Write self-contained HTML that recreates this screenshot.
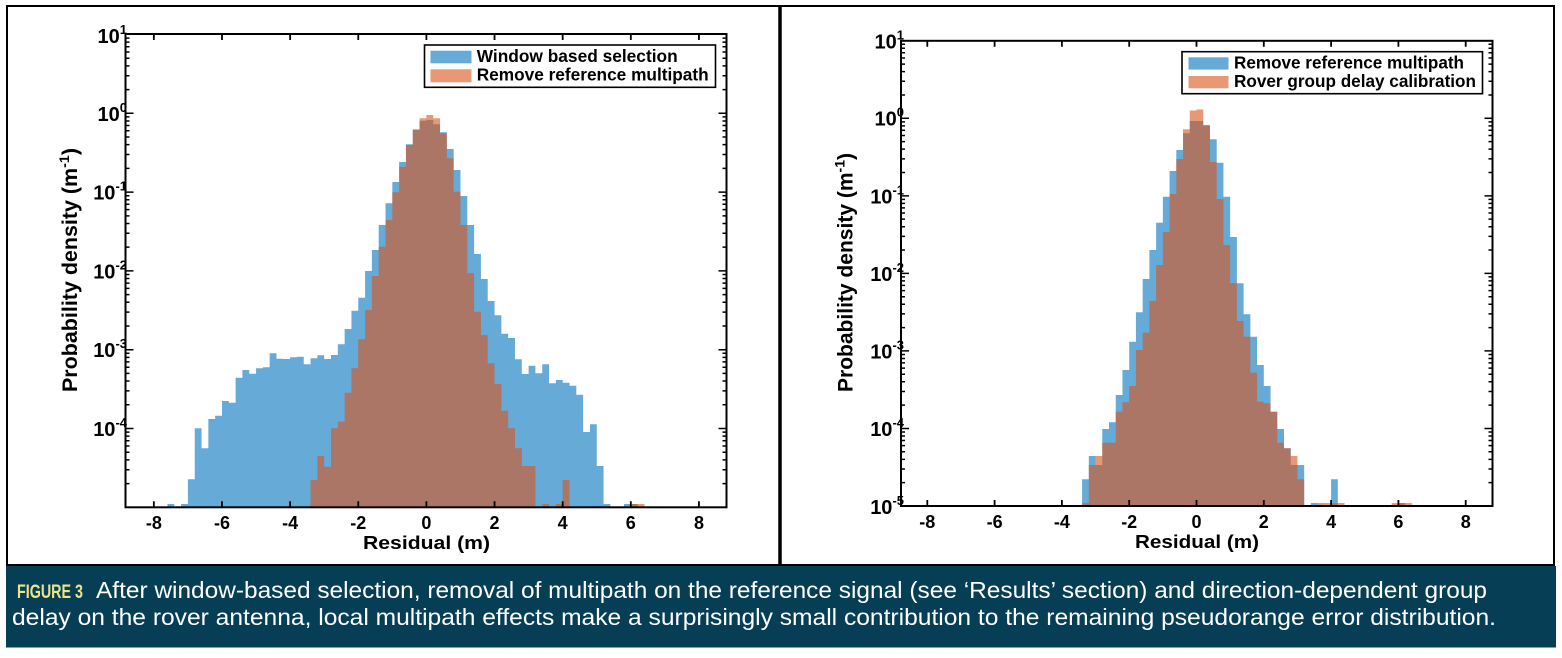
<!DOCTYPE html>
<html>
<head>
<meta charset="utf-8">
<style>
  html, body { margin: 0; padding: 0; background: #ffffff; }
  svg { display: block; }
  .t { font-family: "Liberation Sans", Arial, sans-serif; font-weight: bold; fill: #000; }
  .cap { font-family: "Liberation Sans", Arial, sans-serif; fill: #ffffff; }
</style>
</head>
<body>
<svg width="1562" height="658" viewBox="0 0 1562 658" xmlns="http://www.w3.org/2000/svg">
  <defs>
    <path id="lmin" d="M0,483.58h4M0,469.7h4M0,459.86h4M0,452.22h4M0,446h4M0,440.71h4M0,436.14h4M0,432.1h4M0,404.78h4M0,390.9h4M0,381.06h4M0,373.42h4M0,367.2h4M0,361.91h4M0,357.34h4M0,353.3h4M0,325.98h4M0,312.1h4M0,302.26h4M0,294.62h4M0,288.4h4M0,283.11h4M0,278.54h4M0,274.5h4M0,247.18h4M0,233.3h4M0,223.46h4M0,215.82h4M0,209.6h4M0,204.31h4M0,199.74h4M0,195.7h4M0,168.38h4M0,154.5h4M0,144.66h4M0,137.02h4M0,130.8h4M0,125.51h4M0,120.94h4M0,116.9h4M0,89.58h4M0,75.7h4M0,65.86h4M0,58.22h4M0,52h4M0,46.71h4M0,42.14h4M0,38.1h4M0,428.5h8M0,349.7h8M0,270.9h8M0,192.1h8M0,113.3h8" stroke="#000" stroke-width="1.5" fill="none"/>
    <path id="rmin" d="M0,482.66h4M0,469.01h4M0,459.32h4M0,451.8h4M0,445.67h4M0,440.47h4M0,435.98h4M0,432.01h4M0,405.12h4M0,391.47h4M0,381.78h4M0,374.26h4M0,368.13h4M0,362.93h4M0,358.44h4M0,354.47h4M0,327.58h4M0,313.93h4M0,304.24h4M0,296.72h4M0,290.59h4M0,285.39h4M0,280.9h4M0,276.93h4M0,250.04h4M0,236.39h4M0,226.7h4M0,219.18h4M0,213.05h4M0,207.85h4M0,203.36h4M0,199.39h4M0,172.5h4M0,158.85h4M0,149.16h4M0,141.64h4M0,135.51h4M0,130.31h4M0,125.82h4M0,121.85h4M0,94.96h4M0,81.31h4M0,71.62h4M0,64.1h4M0,57.97h4M0,52.77h4M0,48.28h4M0,44.31h4M0,428.46h8M0,350.92h8M0,273.38h8M0,195.84h8M0,118.3h8" stroke="#000" stroke-width="1.5" fill="none"/>
  </defs>

  <!-- outer frame -->
  <rect x="7" y="6" width="1547" height="559" fill="#fff" stroke="#000" stroke-width="2"/>
  <line x1="780" y1="5" x2="780" y2="566" stroke="#000" stroke-width="3.5"/>

  <!-- ================= LEFT CHART ================= -->
  <g transform="translate(426.4,0) scale(34.07,1)">
    <path fill="rgb(0,114,189)" fill-opacity="0.6" d="M-7.6,507.3 V504 H-7.4 V507.3 Z
      M-7.2,507.3 V504 H-7.0 V479.3 H-6.8 V428.3 H-6.6 V448.3 H-6.4 V419 H-6.2 V415.7 H-6.0 V401 H-5.8 V402.7 H-5.6 V377.7 H-5.4 V370 H-5.2 V373.7 H-5.0 V368.3 H-4.8 V367.3 H-4.6 V353.3 H-4.4 V358.7 H-4.2 V359 H-4.0 V357.3 H-3.8 V356.7 H-3.6 V364.3 H-3.4 V358.3 H-3.2 V355.3 H-3.0 V359 H-2.8 V355 H-2.6 V344.3 H-2.4 V329 H-2.2 V310.7 H-2.0 V297.7 H-1.8 V271 H-1.6 V250 H-1.4 V225 H-1.2 V203.3 H-1.0 V182 H-0.8 V162 H-0.6 V144.3 H-0.4 V130 H-0.2 V120.7 H0 V120 H0.2 V124.3 H0.4 V132.3 H0.6 V149 H0.8 V170 H1.0 V196 H1.2 V225 H1.4 V254 H1.6 V279 H1.8 V301 H2.0 V315.3 H2.2 V333.7 H2.4 V338 H2.6 V359.3 H2.8 V374 H3.0 V365.7 H3.2 V373.3 H3.4 V364.3 H3.6 V383.3 H3.8 V380 H4.0 V382.7 H4.2 V385.7 H4.4 V394.7 H4.6 V432 H4.8 V424.3 H5.0 V466 H5.2 V504 H5.4 V507.3 Z
      M5.8,507.3 V504 H6.2 V507.3 Z"/>
    <path fill="rgb(217,83,25)" fill-opacity="0.6" d="M-3.4,507.3 V480 H-3.2 V456 H-3.0 V466.7 H-2.8 V428.3 H-2.6 V421.7 H-2.4 V392.7 H-2.2 V368.3 H-2.0 V339.3 H-1.8 V310 H-1.6 V276 H-1.4 V246.7 H-1.2 V220 H-1.0 V192.3 H-0.8 V166.7 H-0.6 V145 H-0.4 V129.3 H-0.2 V118.3 H0 V115 H0.2 V118.3 H0.4 V133.3 H0.6 V158.3 H0.8 V191.7 H1.0 V225 H1.2 V273.3 H1.4 V311.7 H1.6 V335 H1.8 V363.3 H2.0 V384 H2.2 V410.7 H2.4 V428.3 H2.6 V448.3 H2.8 V466 H3.2 V507.3 Z
      M3.4,507.3 V504 H3.6 V507.3 Z
      M3.8,507.3 V504 H4.0 V480 H4.2 V507.3 Z
      M6.0,507.3 V504 H6.4 V507.3 Z"/>
  </g>
  <!-- axes box -->
  <rect x="125.5" y="34" width="601" height="473.3" fill="none" stroke="#000" stroke-width="2"/>
  <use href="#lmin" transform="translate(125.5,0)"/>
  <use href="#lmin" transform="translate(726.5,0) scale(-1,1)"/>
  <path stroke="#000" stroke-width="1.8" fill="none" d="M153.84,507.3v-6M221.98,507.3v-6M290.12,507.3v-6M358.26,507.3v-6M426.4,507.3v-6M494.54,507.3v-6M562.68,507.3v-6M630.82,507.3v-6M698.96,507.3v-6
    M153.84,34v6M221.98,34v6M290.12,34v6M358.26,34v6M426.4,34v6M494.54,34v6M562.68,34v6M630.82,34v6M698.96,34v6"/>
  <!-- y tick labels -->
  <g class="t" font-size="20" text-anchor="end">
    <text x="127" y="43">10<tspan font-size="13" dy="-9">1</tspan></text>
    <text x="127" y="121">10<tspan font-size="13" dy="-9">0</tspan></text>
    <text x="127" y="199.6">10<tspan font-size="13" dy="-9">-1</tspan></text>
    <text x="127" y="278.4">10<tspan font-size="13" dy="-9">-2</tspan></text>
    <text x="127" y="357.2">10<tspan font-size="13" dy="-9">-3</tspan></text>
    <text x="127" y="436">10<tspan font-size="13" dy="-9">-4</tspan></text>
  </g>
  <!-- x tick labels -->
  <g class="t" font-size="18" text-anchor="middle">
    <text x="153.84" y="529">-8</text>
    <text x="221.98" y="529">-6</text>
    <text x="290.12" y="529">-4</text>
    <text x="358.26" y="529">-2</text>
    <text x="426.4" y="529">0</text>
    <text x="494.54" y="529">2</text>
    <text x="562.68" y="529">4</text>
    <text x="630.82" y="529">6</text>
    <text x="698.96" y="529">8</text>
  </g>
  <text class="t" x="363" y="549" font-size="18.5" textLength="127" lengthAdjust="spacingAndGlyphs">Residual (m)</text>
  <text class="t" font-size="21" transform="translate(77,392) rotate(-90)" textLength="244" lengthAdjust="spacingAndGlyphs">Probability density (m<tspan font-size="14" dy="-8">-1</tspan><tspan dy="8">)</tspan></text>
  <!-- legend -->
  <rect x="424.5" y="45" width="291" height="42.3" fill="#fff" stroke="#000" stroke-width="1.6"/>
  <rect x="430.5" y="50.7" width="41" height="12.6" fill="rgb(0,114,189)" fill-opacity="0.6"/>
  <rect x="430.5" y="69.3" width="41" height="13" fill="rgb(217,83,25)" fill-opacity="0.6"/>
  <text class="t" x="476.7" y="61.8" font-size="17.5" textLength="201" lengthAdjust="spacingAndGlyphs">Window based selection</text>
  <text class="t" x="476.7" y="80.3" font-size="17.5" textLength="232" lengthAdjust="spacingAndGlyphs">Remove reference multipath</text>

  <!-- ================= RIGHT CHART ================= -->
  <g transform="translate(1196.5,0) scale(33.65,1)">
    <path fill="rgb(0,114,189)" fill-opacity="0.6" d="M-3.4,506 V479.3 H-3.2 V456 H-3.0 V465 H-2.8 V429 H-2.6 V422.3 H-2.4 V395 H-2.2 V370 H-2.0 V341.7 H-1.8 V312.3 H-1.6 V279 H-1.4 V250 H-1.2 V222.7 H-1.0 V196.7 H-0.8 V171 H-0.6 V150 H-0.4 V133.3 H-0.2 V121 H0 V121 H0.2 V125 H0.4 V139.3 H0.6 V162.7 H0.8 V196.7 H1.0 V237 H1.2 V283.3 H1.4 V314.3 H1.6 V336.7 H1.8 V365 H2.0 V386 H2.2 V411.7 H2.4 V429 H2.6 V448.3 H2.8 V465 H3.2 V506 Z
      M3.4,506 V503 H3.6 V506 Z
      M4.0,506 V479.3 H4.2 V506 Z
      M6.0,506 V503 H6.2 V506 Z"/>
    <path fill="rgb(217,83,25)" fill-opacity="0.6" d="M-3.4,506 V503 H-3.2 V465 H-3.0 V456 H-2.8 V442.7 H-2.4 V411.7 H-2.2 V402.3 H-2.0 V386 H-1.8 V350 H-1.6 V332.7 H-1.4 V301 H-1.2 V265 H-1.0 V232 H-0.8 V194 H-0.6 V159 H-0.4 V129.3 H-0.2 V110.5 H0 V109.5 H0.2 V126 H0.4 V162 H0.6 V199 H0.8 V245 H1.0 V283.3 H1.2 V321 H1.4 V336.7 H1.6 V372.7 H1.8 V401.7 H2.0 V403.3 H2.2 V411.7 H2.4 V442.7 H2.6 V448.3 H2.8 V456 H3.0 V479.3 H3.2 V506 Z
      M3.6,506 V503 H4.4 V506 Z
      M5.8,506 V503 H6.4 V506 Z"/>
  </g>
  <rect x="901" y="40.8" width="591.5" height="465.2" fill="none" stroke="#000" stroke-width="2"/>
  <use href="#rmin" transform="translate(901,0)"/>
  <use href="#rmin" transform="translate(1492.5,0) scale(-1,1)"/>
  <path stroke="#000" stroke-width="1.8" fill="none" d="M927.3,506v-6M994.6,506v-6M1061.9,506v-6M1129.2,506v-6M1196.5,506v-6M1263.8,506v-6M1331.1,506v-6M1398.4,506v-6M1465.7,506v-6
    M927.3,40.8v6M994.6,40.8v6M1061.9,40.8v6M1129.2,40.8v6M1196.5,40.8v6M1263.8,40.8v6M1331.1,40.8v6M1398.4,40.8v6M1465.7,40.8v6"/>
  <g class="t" font-size="20" text-anchor="end">
    <text x="904" y="48.5">10<tspan font-size="13" dy="-9">1</tspan></text>
    <text x="904" y="125.5">10<tspan font-size="13" dy="-9">0</tspan></text>
    <text x="904" y="203.3">10<tspan font-size="13" dy="-9">-1</tspan></text>
    <text x="904" y="281">10<tspan font-size="13" dy="-9">-2</tspan></text>
    <text x="904" y="358.4">10<tspan font-size="13" dy="-9">-3</tspan></text>
    <text x="904" y="436">10<tspan font-size="13" dy="-9">-4</tspan></text>
    <text x="904" y="514">10<tspan font-size="13" dy="-9">-5</tspan></text>
  </g>
  <g class="t" font-size="18" text-anchor="middle">
    <text x="927.3" y="528">-8</text>
    <text x="994.6" y="528">-6</text>
    <text x="1061.9" y="528">-4</text>
    <text x="1129.2" y="528">-2</text>
    <text x="1196.5" y="528">0</text>
    <text x="1263.8" y="528">2</text>
    <text x="1331.1" y="528">4</text>
    <text x="1398.4" y="528">6</text>
    <text x="1465.7" y="528">8</text>
  </g>
  <text class="t" x="1135" y="548" font-size="18.5" textLength="124" lengthAdjust="spacingAndGlyphs">Residual (m)</text>
  <text class="t" font-size="21" transform="translate(852.5,392) rotate(-90)" textLength="239" lengthAdjust="spacingAndGlyphs">Probability density (m<tspan font-size="14" dy="-8">-1</tspan><tspan dy="8">)</tspan></text>
  <rect x="1182" y="51.7" width="300.5" height="42" fill="#fff" stroke="#000" stroke-width="1.6"/>
  <rect x="1188.5" y="57.3" width="40" height="12.3" fill="rgb(0,114,189)" fill-opacity="0.6"/>
  <rect x="1188.5" y="76" width="40" height="12.3" fill="rgb(217,83,25)" fill-opacity="0.6"/>
  <text class="t" x="1234" y="68.6" font-size="17.5" textLength="230" lengthAdjust="spacingAndGlyphs">Remove reference multipath</text>
  <text class="t" x="1234" y="87" font-size="17.5" textLength="242" lengthAdjust="spacingAndGlyphs">Rover group delay calibration</text>

  <!-- ================= CAPTION ================= -->
  <rect x="6" y="566" width="1550" height="81.5" fill="#063f55"/>
  <text class="cap" x="17" y="598" font-size="19" font-weight="bold" textLength="66" lengthAdjust="spacingAndGlyphs" style="fill:#ebe48a">FIGURE 3</text>
  <text class="cap" x="96" y="598" font-size="23" textLength="1391" lengthAdjust="spacingAndGlyphs">After window-based selection, removal of multipath on the reference signal (see ‘Results’ section) and direction-dependent group</text>
  <text class="cap" x="12" y="625" font-size="23" textLength="1484" lengthAdjust="spacingAndGlyphs">delay on the rover antenna, local multipath effects make a surprisingly small contribution to the remaining pseudorange error distribution.</text>
</svg>
</body>
</html>
